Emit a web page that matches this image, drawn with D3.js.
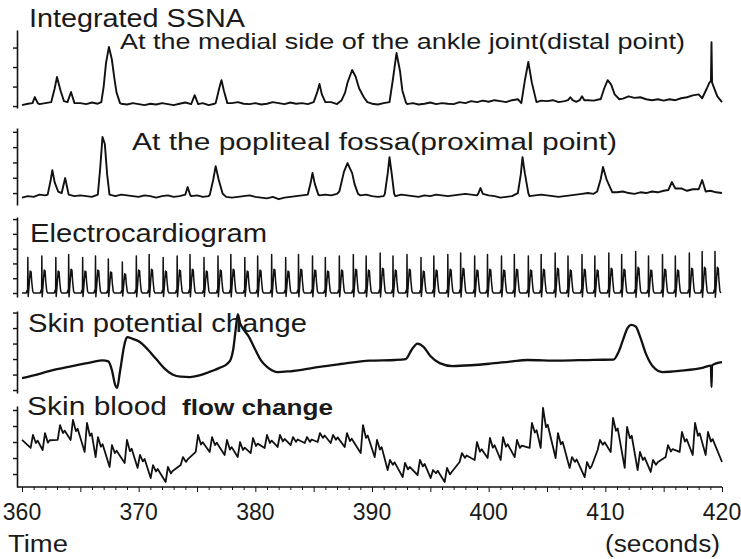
<!DOCTYPE html>
<html>
<head>
<meta charset="utf-8">
<script src="https://cdn.jsdelivr.net/npm/d3@7/dist/d3.min.js"></script>
<style>
  html, body { margin: 0; padding: 0; background: #fff; }
  svg text { font-family: "Liberation Sans", Arial, sans-serif; fill: #1a1a1a; }
</style>
</head>
<body>
<div id="chart"></div>
<script>
// Time axis (seconds)
const TIME_TICKS = [360, 370, 380, 390, 400, 410, 420];

// Integrated SSNA, distal point: baseline every 0.5 s from 360 s (a.u.), plus bursts
const ssnaDistalBase = [
  0.05,0.12,0.2,0.1,0.15,0.22,0.1,0.18,0.12,0.2,0.15,0.1,0.18,0.12,0.2,0.1,0.05,0.12,0.08,0.15,
  0.1,0.05,0.12,0.08,0.15,0.1,0.05,0.12,0.18,0.1,0.08,0.15,0.05,0.12,0.1,0.18,0.15,0.2,0.12,0.1,
  0.15,0.08,0.12,0.2,0.15,0.1,0.18,0.12,0.15,0.1,0.22,0.15,0.12,0.2,0.1,0.15,0.12,0.18,0.1,0.15,
  0.12,0.08,0.15,0.1,0.05,0.12,0.1,0.15,0.08,0.12,0.18,0.1,0.15,0.12,0.1,0.2,0.15,0.25,0.2,0.28,
  0.22,0.3,0.25,0.2,0.3,0.35,0.25,0.3,0.22,0.28,0.25,0.3,0.2,0.25,0.3,0.22,0.35,0.3,0.28,0.35,
  0.4,0.35,0.45,0.38,0.5,0.42,0.45,0.35,0.3,0.35,0.28,0.35,0.3,0.4,0.45,0.55,0.6,0.7,0.5,0.3,0.2
];
const ssnaDistalBursts = [
  [[360.9,0.15],[361.1,0.46],[361.35,0.15]],
  [[362.5,0.2],[362.8,0.9],[363.0,1.49],[363.3,0.8],[363.6,0.25]],
  [[363.9,0.2],[364.2,0.72],[364.5,0.15]],
  [[366.8,0.2],[367.0,1.0],[367.2,2.2],[367.45,3.03],[367.7,2.4],[367.9,1.5],[368.1,0.7],[368.4,0.15]],
  [[374.5,0.1],[374.8,0.56],[375.1,0.1]],
  [[376.6,0.15],[376.9,0.9],[377.1,1.33],[377.3,0.8],[377.6,0.15]],
  [[385.0,0.2],[385.3,0.7],[385.5,1.13],[385.7,0.6],[386.0,0.2]],
  [[387.4,0.3],[387.7,0.7],[387.9,1.2],[388.3,1.85],[388.6,1.5],[388.9,0.9],[389.3,0.45],[389.6,0.2]],
  [[391.5,0.2],[391.8,1.4],[392.1,2.72],[392.4,1.8],[392.6,0.8],[392.9,0.2]],
  [[402.8,0.15],[403.1,1.3],[403.4,2.26],[403.7,1.2],[404.1,0.2]],
  [[406.8,0.3],[407.0,0.45],[407.2,0.3]],
  [[407.8,0.3],[408.0,0.5],[408.2,0.3]],
  [[409.6,0.35],[409.9,0.9],[410.2,1.33],[410.5,1.1],[410.8,0.6],[411.2,0.35]],
  [[418.3,0.4],[418.7,0.9],[418.9,1.18],[419.05,1.3],[419.1,3.28],[419.15,1.2],[419.4,0.8],[419.6,0.5],[420,0.2]]
];

// Integrated SSNA, proximal point
const ssnaProxBase = [
  -0.3,-0.2,-0.25,-0.1,-0.15,0.0,-0.05,-0.1,-0.15,-0.2,-0.15,-0.2,-0.25,-0.2,-0.15,-0.25,-0.2,-0.1,-0.15,-0.2,
  -0.25,-0.15,-0.2,-0.3,-0.2,-0.15,-0.25,-0.2,-0.1,-0.2,-0.15,-0.25,-0.2,-0.15,-0.2,-0.25,-0.3,-0.25,-0.2,-0.15,
  -0.25,-0.3,-0.35,-0.25,-0.4,-0.3,-0.25,-0.2,-0.15,-0.1,-0.2,-0.15,-0.1,-0.15,-0.05,-0.1,-0.15,-0.2,-0.15,-0.1,
  -0.2,-0.25,-0.2,-0.15,-0.2,-0.1,-0.15,-0.2,-0.25,-0.15,-0.2,-0.1,-0.15,-0.2,-0.15,-0.1,-0.05,-0.1,-0.15,-0.2,
  -0.15,-0.2,-0.3,-0.25,-0.2,-0.15,-0.25,-0.2,-0.15,-0.1,-0.15,-0.2,-0.25,-0.2,-0.15,-0.1,-0.05,0.0,-0.05,0.05,
  0.0,-0.05,0.05,0.1,0.0,-0.05,0.05,0.0,0.1,0.05,0.15,0.1,0.2,0.3,0.15,0.25,0.3,0.2,0.15,0.05,0.0
];
const ssnaProxBursts = [
  [[362.2,-0.1],[362.45,0.8],[362.6,1.5],[362.8,0.7],[363.1,0.1]],
  [[363.4,0.0],[363.7,0.98],[364.0,-0.1]],
  [[366.5,-0.1],[366.7,1.6],[366.9,3.66],[367.1,3.2],[367.3,1.2],[367.5,-0.1]],
  [[374.0,-0.1],[374.2,0.39],[374.4,-0.1]],
  [[376.1,-0.1],[376.4,0.9],[376.6,1.76],[376.85,0.9],[377.2,-0.05]],
  [[384.5,-0.1],[384.75,0.7],[384.9,1.31],[385.1,0.6],[385.4,-0.1]],
  [[387.2,0.1],[387.6,1.4],[387.9,1.96],[388.3,1.3],[388.5,0.6],[388.8,-0.05]],
  [[391.1,-0.05],[391.35,1.3],[391.5,2.35],[391.7,1.2],[391.9,-0.05]],
  [[399.1,-0.05],[399.3,0.33],[399.5,-0.05]],
  [[402.5,0.0],[402.75,1.2],[402.9,2.35],[403.1,1.3],[403.4,0.0]],
  [[409.3,0.1],[409.6,0.9],[409.8,1.7],[410.1,0.9],[410.6,0.05]],
  [[415.4,0.2],[415.7,0.72],[416.0,0.3]],
  [[418.0,0.25],[418.3,0.85],[418.6,0.1]]
];

// Electrocardiogram: R-wave times (s) and R amplitudes (a.u.)
const ecgBeats = [
  360.5,361.7,362.9,364.0,365.2,366.3,367.4,368.6,369.8,370.9,372.1,373.3,374.4,375.6,376.8,377.9,
  379.1,380.2,381.4,382.6,383.7,384.9,386.0,387.2,388.4,389.5,390.7,391.8,393.0,394.2,395.3,396.5,
  397.6,398.8,399.9,401.1,402.2,403.4,404.5,405.7,406.8,408.0,409.1,410.3,411.4,412.6,413.7,414.9,
  416.0,417.2,418.3,419.4
];
const ecgAmp = [
  2.4,2.5,2.4,2.6,2.4,2.5,2.3,2.1,2.5,2.6,2.4,2.5,2.6,2.4,2.5,2.6,
  2.4,2.5,2.6,2.4,2.6,2.5,2.4,2.5,2.6,2.5,2.7,2.5,2.6,2.4,2.5,2.6,
  2.7,2.5,2.6,2.5,2.6,2.5,2.6,2.7,2.5,2.6,2.5,2.7,2.6,2.8,2.5,2.6,
  2.5,2.7,2.8,2.8
];
// one beat: [seconds from R, fraction of R]
const ecgBeatShape = [
  [-0.14,0],[-0.06,0.08],[-0.02,0.02],[0,1],[0.03,-0.1],[0.07,0.05],[0.14,0.35],
  [0.2,0.62],[0.24,0.45],[0.28,0.6],[0.34,0.3],[0.42,0.05],[0.5,0]
];

// Skin potential change: [time s, a.u.]
const skinPotential = [
  [360,0.77],[361,0.95],[362,1.15],[363,1.35],[364,1.5],[365,1.65],[366,1.8],[366.9,1.92],
  [367.4,1.85],[367.7,1.3],[368.0,0.3],[368.15,0.13],[368.4,1.2],[368.8,3.0],[369.0,3.42],
  [369.5,3.3],[370.1,3.1],[370.8,2.6],[371.5,2.0],[372.2,1.4],[372.9,1.0],[373.6,0.86],
  [374.4,0.84],[375.2,0.95],[376,1.15],[377,1.45],[377.6,1.7],[377.9,2.0],[378.1,2.6],
  [378.3,3.8],[378.5,4.9],[378.7,4.3],[379.0,3.9],[379.4,3.5],[380.0,2.6],[380.5,1.9],
  [381.0,1.5],[381.5,1.25],[381.9,1.16],[382.8,1.2],[383.8,1.29],[385.5,1.5],[387.3,1.68],
  [389.8,1.9],[392.0,1.94],[392.9,2.0],[393.4,2.6],[393.9,3.0],[394.4,2.8],[395.0,2.2],
  [395.8,1.74],[396.9,1.55],[398.5,1.6],[400.1,1.7],[402,1.85],[403.3,1.94],[406,1.9],
  [409,1.95],[410.7,1.96],[411.1,2.4],[411.5,3.2],[411.9,4.0],[412.2,4.2],[412.6,4.1],
  [413.0,3.4],[413.5,2.3],[414.1,1.5],[414.9,1.16],[416.5,1.25],[418.4,1.45],[419.05,1.58],
  [419.1,0.19],[419.15,1.6],[420,1.8]
];

// Skin blood flow change: pulse peak times (s), peak and preceding trough values (a.u.)
const bloodFlowT = [
  360.94,361.97,363.26,364.37,365.57,366.51,367.71,369.0,370.11,371.23,372.51,373.8,375.09,
  376.29,377.57,378.69,379.8,381.0,382.11,383.23,384.43,385.54,386.66,387.86,389.23,390.43,
  391.54,392.83,394.11,395.23,396.43,397.71,399.0,400.11,401.23,402.43,403.71,404.66,405.94,
  407.14,408.43,409.54,410.66,411.86,412.97,414.09,415.37,416.57,417.69,418.8
];
const bloodFlowPeak = [
  3.44,3.56,4.06,4.38,4.19,3.31,2.81,3.13,2.19,1.56,1.44,2.06,3.44,
  3.31,3.13,3.0,3.25,3.44,3.44,3.31,3.31,3.56,3.44,3.56,4.06,3.13,
  1.88,1.69,1.88,1.25,1.38,2.31,3.0,3.25,3.31,3.13,4.19,5.13,3.56,
  2.06,1.75,3.13,4.5,3.94,2.38,1.88,2.81,3.63,4.19,3.63
];
const bloodFlowTrough = [
  2.63,2.5,3.13,3.13,2.38,2.06,1.44,1.69,1.38,0.75,0.5,1.56,2.38,
  2.38,2.19,2.06,2.31,2.63,2.69,2.81,2.94,3.0,2.94,2.69,2.31,2.06,
  1.25,0.81,0.94,0.75,0.5,1.75,1.88,2.0,1.88,2.06,2.63,2.63,2.0,
  1.38,0.81,2.5,2.38,1.38,1.25,1.13,2.06,2.38,2.19,2.19
];
// small dicrotic shoulder after each peak, drop below peak (a.u.)
const bloodFlowNotch = [
  0.5,0.6,0.5,0.7,0.8,0.6,0.5,0.7,0.4,0.4,0.4,0.3,0.6,
  0.5,0.6,0.5,0.5,0.5,0.4,0.3,0.3,0.3,0.3,0.5,0.8,0.6,
  0.3,0.4,0.4,0.2,0.4,0.3,0.6,0.6,0.6,0.5,0.6,1.2,0.7,
  0.3,0.4,0.3,0.8,0.7,0.5,0.3,0.4,0.6,0.8,0.6
];
const bloodFlowStart = [360, 3.13];
const bloodFlowEnd = [420, 1.75];

// ---------------------------------------------------------------
const width = 741, height = 559;
const svg = d3.select('#chart').append('svg')
  .attr('width', width).attr('height', height)
  .style('display', 'block');
svg.append('rect').attr('width', width).attr('height', height).attr('fill', '#fff');

const x = d3.scaleLinear().domain([360, 420]).range([22, 722]);
const AXIS_X = 17;

// panel scales: domain in a.u., range = pixel extent of the panel's left axis
const panels = {
  distal:   d3.scaleLinear().domain([-0.1, 3.9]).range([108, 30]),
  proximal: d3.scaleLinear().domain([-0.78, 4.25]).range([205, 128]),
  ecg:      d3.scaleLinear().domain([-0.27, 5.14]).range([297, 217]),
  skinPot:  d3.scaleLinear().domain([-0.19, 5.1]).range([393, 311]),
  blood:    d3.scaleLinear().domain([0.19, 5.25]).range([487, 406])
};
const panelTicks = {
  distal: [0, 1, 2, 3],
  proximal: [0, 1, 2, 3, 4],
  ecg: [0, 1, 2, 3, 4, 5],
  skinPot: [0, 1, 2, 3, 4, 5],
  blood: [1, 2, 3, 4, 5]
};

function mergeBursts(base, bursts) {
  let pts = base.map((v, i) => [360 + i * 0.5, v]);
  bursts.forEach(b => {
    const t0 = b[0][0], t1 = b[b.length - 1][0];
    pts = pts.filter(p => p[0] < t0 || p[0] > t1).concat(b);
  });
  return pts.sort((a, b) => a[0] - b[0]);
}

function ecgPoints() {
  const pts = [[360, 0]];
  ecgBeats.forEach((t, i) => {
    ecgBeatShape.forEach(s => pts.push([t + s[0], s[1] * ecgAmp[i]]));
  });
  return pts.filter(p => p[0] >= 360 && p[0] <= 420);
}

function bloodPoints() {
  const pts = [bloodFlowStart];
  bloodFlowT.forEach((t, i) => {
    const p = bloodFlowPeak[i];
    pts.push([t - 0.2, bloodFlowTrough[i]]);
    pts.push([t, p]);
    pts.push([t + 0.25, p - bloodFlowNotch[i]]);
    pts.push([t + 0.4, p - bloodFlowNotch[i] + 0.15]);
  });
  pts.push(bloodFlowEnd);
  return pts;
}

const traces = [
  { y: panels.distal, pts: mergeBursts(ssnaDistalBase, ssnaDistalBursts), w: 1.9 },
  { y: panels.proximal, pts: mergeBursts(ssnaProxBase, ssnaProxBursts), w: 1.9 },
  { y: panels.ecg, pts: ecgPoints(), w: 1.5 },
  { y: panels.skinPot, pts: skinPotential, w: 2.3, curve: d3.curveMonotoneX },
  { y: panels.blood, pts: bloodPoints(), w: 1.8 }
];

// left axes
Object.keys(panels).forEach(k => {
  const g = svg.append('g').attr('transform', `translate(${AXIS_X},0)`)
    .call(d3.axisLeft(panels[k]).tickValues(panelTicks[k]).tickSize(4).tickSizeOuter(0).tickFormat(''));
  g.select('.domain').attr('stroke', '#111').attr('stroke-width', 1.6);
  g.selectAll('.tick line').attr('stroke', '#111').attr('stroke-width', 1.4);
});

// traces
traces.forEach(tr => {
  const line = d3.line()
    .x(d => x(d[0]))
    .y(d => tr.y(d[1]))
    .curve(tr.curve || d3.curveLinear);
  svg.append('path')
    .datum(tr.pts)
    .attr('d', line)
    .attr('fill', 'none')
    .attr('stroke', '#111')
    .attr('stroke-width', tr.w)
    .attr('stroke-linejoin', 'round');
});

// bottom time axis
const xAxisY = 487;
const gx = svg.append('g').attr('transform', `translate(0,${xAxisY})`)
  .call(d3.axisBottom(x).tickValues(d3.range(360, 421, 1)).tickSize(3).tickSizeOuter(0).tickFormat(''));
gx.select('.domain').attr('stroke', '#111').attr('stroke-width', 1.6)
  .attr('d', `M${AXIS_X},0H${x(420)}`);
gx.selectAll('.tick line').attr('stroke', '#111').attr('stroke-width', 1)
  .attr('y2', d => d % 5 === 0 ? 5 : 3);

svg.selectAll('.tlabel')
  .data(TIME_TICKS)
  .enter().append('text')
  .attr('class', 'tlabel')
  .attr('x', d => x(d))
  .attr('y', 520)
  .attr('text-anchor', 'middle')
  .style('font-size', '23px')
  .text(d => d);

// labels
const labels = [
  { t: 'Integrated SSNA', x: 29, y: 27, fs: 25, len: 216 },
  { t: 'At the medial side of the ankle joint(distal point)', x: 120, y: 49, fs: 22, len: 565 },
  { t: 'At the popliteal fossa(proximal point)', x: 132, y: 150, fs: 23, len: 485 },
  { t: 'Electrocardiogram', x: 30, y: 242, fs: 26, len: 237 },
  { t: 'Skin potential change', x: 28, y: 332, fs: 25, len: 279 },
  { t: 'Skin blood', x: 27, y: 415, fs: 25, len: 140 },
  { t: 'flow change', x: 182, y: 415, fs: 22, len: 151, bold: true },
  { t: 'Time', x: 8, y: 552, fs: 23, len: 60 },
  { t: '(seconds)', x: 605, y: 552, fs: 23, len: 115 }
];
labels.forEach(l => {
  svg.append('text')
    .attr('x', l.x).attr('y', l.y)
    .attr('textLength', l.len)
    .attr('lengthAdjust', 'spacingAndGlyphs')
    .style('font-size', l.fs + 'px')
    .style('font-weight', l.bold ? 'bold' : 'normal')
    .text(l.t);
});
</script>
</body>
</html>
